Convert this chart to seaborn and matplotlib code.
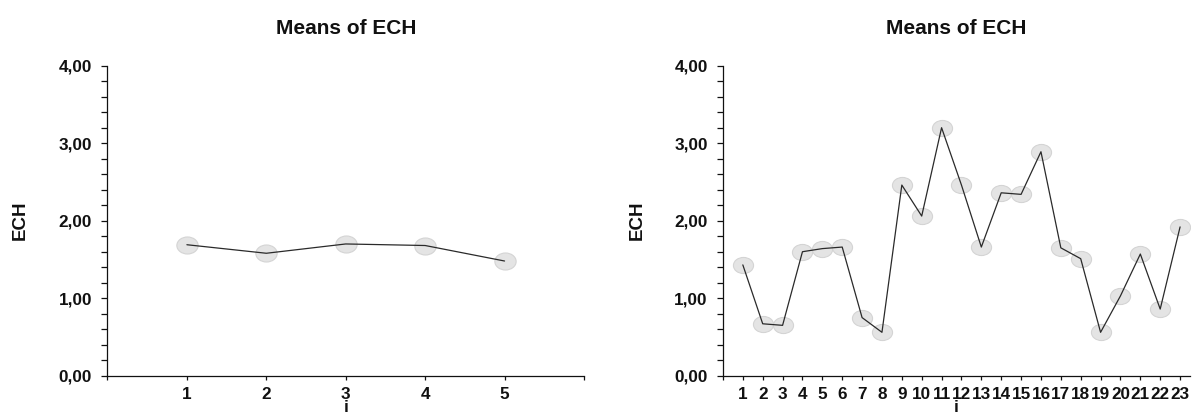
import numpy as np
import pandas as pd
import matplotlib
matplotlib.use("Agg")
import matplotlib.pyplot as plt
from matplotlib.path import Path
from matplotlib.ticker import MultipleLocator, FixedLocator, FixedFormatter
import seaborn as sns

# ---- data ----
left_i = [1, 2, 3, 4, 5]
left_ech = [1.69, 1.58, 1.70, 1.68, 1.48]

right_i = list(range(1, 24))
right_ech = [1.43, 0.67, 0.65, 1.60, 1.64, 1.66, 0.75, 0.56, 2.46, 2.06,
             3.20, 2.46, 1.66, 2.36, 2.34, 2.89, 1.65, 1.51, 0.56, 1.03,
             1.57, 0.86, 1.92]

y_ticks = [0, 1, 2, 3, 4]
y_tick_labels = ["0,00", "1,00", "2,00", "3,00", "4,00"]
title_text = "Means of ECH"
y_label = "ECH"
x_label = "i"

sns.set_style("white")
plt.rcParams['font.family'] = ['Liberation Sans', 'DejaVu Sans']

fig = plt.figure(figsize=(11.93, 4.19), dpi=100)

# ellipse marker (wider than tall, as in the reference)
uc = Path.unit_circle()
ellipse = Path(uc.vertices * np.array([1.0, 0.8]), uc.codes)

def draw_panel(rect, xs, ys, xmax, msize):
    ax = fig.add_axes(rect)
    df = pd.DataFrame({"i": xs, "ECH": ys})
    sns.scatterplot(data=df, x="i", y="ECH", ax=ax, marker=ellipse, s=msize,
                    color="#e4e4e4", edgecolor="#d4d4d4", linewidth=0.8,
                    zorder=2, legend=False)
    sns.lineplot(data=df, x="i", y="ECH", ax=ax, color="#2a2a2a",
                 linewidth=0.9, zorder=3, legend=False)
    ax.set_xlim(0, xmax)
    ax.set_ylim(0, 4)
    for s in ["top", "right"]:
        ax.spines[s].set_visible(False)
    for s in ["left", "bottom"]:
        ax.spines[s].set_color("#111111")
        ax.spines[s].set_linewidth(0.9)
    # y ticks
    ax.yaxis.set_major_locator(FixedLocator(y_ticks))
    ax.yaxis.set_major_formatter(FixedFormatter(y_tick_labels))
    ax.yaxis.set_minor_locator(MultipleLocator(0.2))
    ax.tick_params(axis="y", which="both", direction="out", length=4,
                   width=0.9, color="#111111", left=True, pad=7)
    # x ticks
    n = len(xs)
    xt = [t for t in range(0, int(np.ceil(xmax)) + 1) if t <= xmax]
    ax.xaxis.set_major_locator(FixedLocator(xt))
    ax.xaxis.set_major_formatter(FixedFormatter(
        [str(t) if 1 <= t <= n else "" for t in xt]))
    ax.tick_params(axis="x", which="major", direction="out", length=3,
                   width=0.9, color="#111111", bottom=True, pad=5)
    for lab in ax.get_xticklabels() + ax.get_yticklabels():
        lab.set_fontweight("bold")
        lab.set_fontsize(12.3)
        lab.set_color("#111111")
    ax.set_title(title_text, fontsize=15, fontweight="bold", pad=23,
                 color="#111111")
    ax.set_ylabel(y_label, fontsize=13.5, fontweight="bold", color="#111111")
    ax.set_xlabel(x_label, fontsize=12.5, fontweight="bold", color="#111111")
    ax.yaxis.set_label_coords(-0.165, 0.5)
    ax.xaxis.set_label_coords(0.5, -0.078)
    ax.xaxis.label.set_va("top")
    return ax

draw_panel([0.0901, 0.1033, 0.3994, 0.7399], left_i, left_ech, 6, 235)
draw_panel([0.606, 0.1033, 0.3915, 0.7399], right_i, right_ech, 23.5, 210)

fig.savefig("out.png", dpi=100, facecolor="white")
